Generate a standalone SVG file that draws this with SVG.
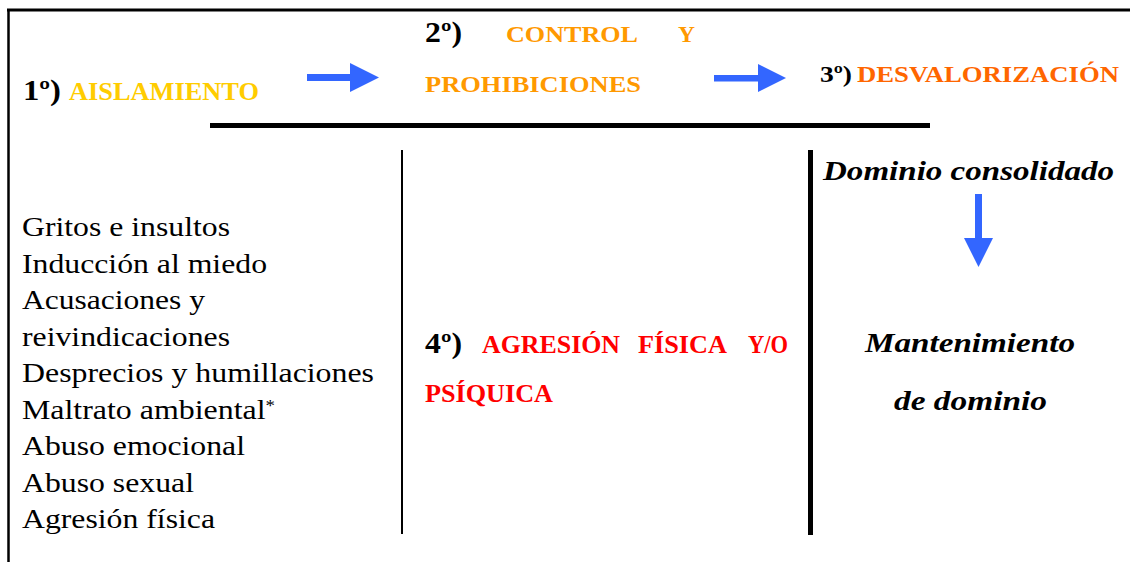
<svg xmlns="http://www.w3.org/2000/svg" width="1130" height="562" viewBox="0 0 1130 562" font-family="'Liberation Serif', 'Noto Serif', 'DejaVu Serif', serif">
<style>
.b{font-weight:bold;}
.bi{font-weight:bold;font-style:italic;}
.list{font-size:27px;fill:#000;}
.num{font-size:29px;font-weight:bold;fill:#000;}
.frame{stroke:#000;fill:none;}
.arrow{fill:#3366FF;}
</style>
<rect width="1130" height="562" fill="#fff"/>
<g id="frame">
<line class="frame" x1="7" y1="10" x2="1130" y2="10" stroke-width="3"/>
<line class="frame" x1="8.5" y1="9" x2="8.5" y2="562" stroke-width="2.5"/>
<line class="frame" x1="210" y1="125.5" x2="930" y2="125.5" stroke-width="5"/>
<line class="frame" x1="402" y1="150" x2="402" y2="534" stroke-width="2"/>
<line class="frame" x1="810.5" y1="150" x2="810.5" y2="535" stroke-width="5"/>
</g>
<g id="step1">
<text class="num" x="23" y="100" textLength="38" lengthAdjust="spacingAndGlyphs">1º)</text>
<text class="b" x="69" y="100" font-size="25.5" fill="#FFCC00" textLength="190" lengthAdjust="spacingAndGlyphs">AISLAMIENTO</text>
</g>
<g id="step2">
<text class="num" x="425" y="42" textLength="37" lengthAdjust="spacingAndGlyphs">2º)</text>
<text class="b" x="506" y="42" font-size="23.5" fill="#FF9900" textLength="132" lengthAdjust="spacingAndGlyphs">CONTROL</text>
<text class="b" x="678" y="42" font-size="23.5" fill="#FF9900" textLength="17" lengthAdjust="spacingAndGlyphs">Y</text>
<text class="b" x="425" y="92" font-size="23.5" fill="#FF9900" textLength="216" lengthAdjust="spacingAndGlyphs">PROHIBICIONES</text>
</g>
<g id="step3">
<text class="b" x="820" y="82" font-size="22.5" fill="#000" textLength="32" lengthAdjust="spacingAndGlyphs">3º)</text>
<text class="b" x="857" y="82" font-size="22.5" fill="#FF6600" textLength="262" lengthAdjust="spacingAndGlyphs">DESVALORIZACIÓN</text>
</g>
<g id="list">
<text class="list" x="22" y="236" textLength="208" lengthAdjust="spacingAndGlyphs">Gritos e insultos</text>
<text class="list" x="22" y="272.5" textLength="245" lengthAdjust="spacingAndGlyphs">Inducción al miedo</text>
<text class="list" x="22" y="309" textLength="183" lengthAdjust="spacingAndGlyphs">Acusaciones y</text>
<text class="list" x="22" y="345.5" textLength="208" lengthAdjust="spacingAndGlyphs">reivindicaciones</text>
<text class="list" x="22" y="382" textLength="352" lengthAdjust="spacingAndGlyphs">Desprecios y humillaciones</text>
<text class="list" x="22" y="418.5" textLength="253" lengthAdjust="spacingAndGlyphs">Maltrato ambiental<tspan font-size="16" dy="-8">*</tspan></text>
<text class="list" x="22" y="455" textLength="223" lengthAdjust="spacingAndGlyphs">Abuso emocional</text>
<text class="list" x="22" y="491.5" textLength="172" lengthAdjust="spacingAndGlyphs">Abuso sexual</text>
<text class="list" x="22" y="528" textLength="193" lengthAdjust="spacingAndGlyphs">Agresión física</text>
</g>
<g id="step4">
<text class="num" x="425" y="353" textLength="37" lengthAdjust="spacingAndGlyphs">4º)</text>
<text class="b" x="482" y="353" font-size="25.5" fill="#FF0000" textLength="138" lengthAdjust="spacingAndGlyphs">AGRESIÓN</text>
<text class="b" x="638" y="353" font-size="25.5" fill="#FF0000" textLength="89" lengthAdjust="spacingAndGlyphs">FÍSICA</text>
<text class="b" x="748" y="353" font-size="25.5" fill="#FF0000" textLength="40" lengthAdjust="spacingAndGlyphs">Y/O</text>
<text class="b" x="425" y="402" font-size="25.5" fill="#FF0000" textLength="128" lengthAdjust="spacingAndGlyphs">PSÍQUICA</text>
</g>
<g id="dominio-consolidado">
<text class="bi" x="823" y="180" font-size="27" fill="#000" textLength="291" lengthAdjust="spacingAndGlyphs">Dominio consolidado</text>
</g>
<g id="mantenimiento">
<text class="bi" x="865" y="352" font-size="27" fill="#000" textLength="210" lengthAdjust="spacingAndGlyphs">Mantenimiento</text>
<text class="bi" x="894" y="410" font-size="27" fill="#000" textLength="153" lengthAdjust="spacingAndGlyphs">de dominio</text>
</g>
<g id="connectors">
<g class="arrow">
<rect x="307" y="74" width="44" height="7"/>
<polygon points="350,63 379,77.5 350,92"/>
</g>
<g class="arrow">
<rect x="714" y="75" width="45" height="6.5"/>
<polygon points="758,64 786,78 758,92"/>
</g>
<g class="arrow">
<rect x="975" y="194" width="7" height="45"/>
<polygon points="964,238 993,238 978.5,267"/>
</g>
</g>
</svg>
